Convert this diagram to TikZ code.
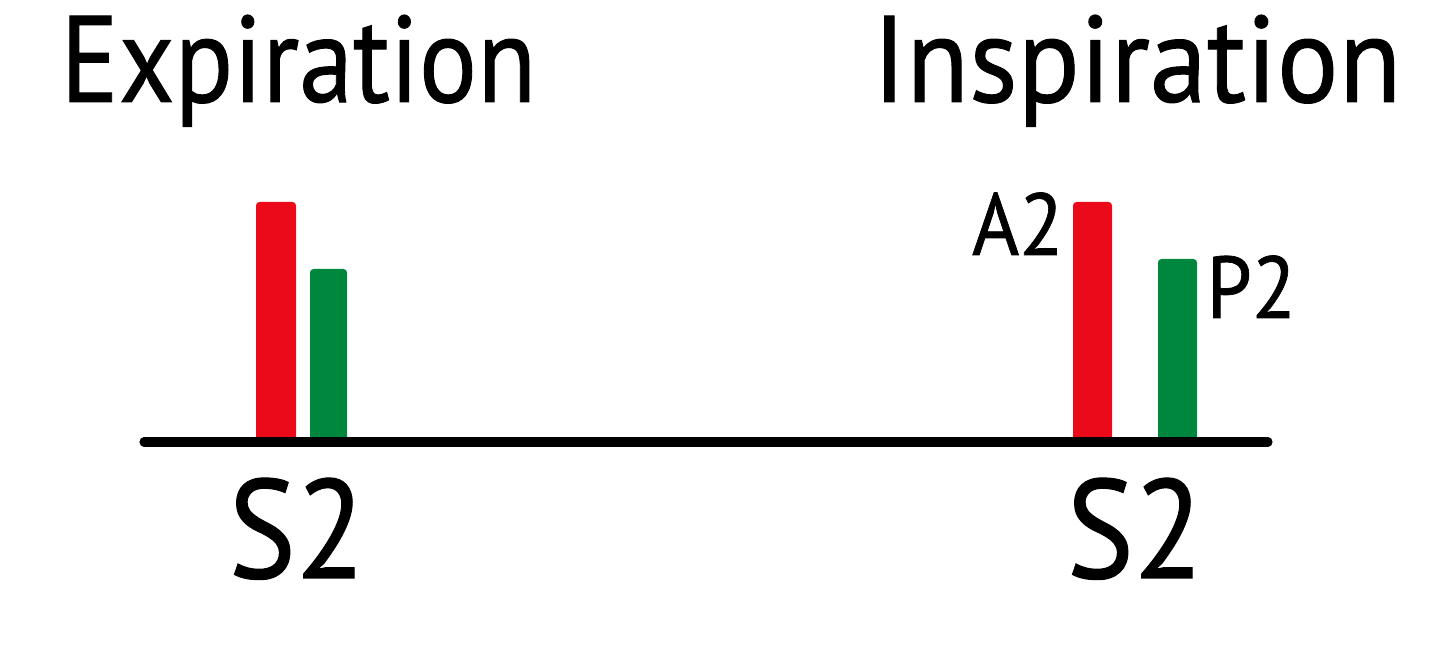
\documentclass[tikz,border=0pt]{standalone}
\usepackage{fontspec}
\setmainfont{PT Sans}
\newfontfamily\diafont[FakeBold=0.8]{PT Sans}
\definecolor{aortic}{RGB}{234,10,26}
\definecolor{pulmonic}{RGB}{0,135,62}
\tikzset{
  title/.style={anchor=base west,inner sep=0pt,xscale=0.9,font=\diafont\fontsize{35}{35}\selectfont},
  sound/.style={anchor=base west,inner sep=0pt,xscale=0.9,font=\diafont\fontsize{40}{40}\selectfont},
  comp/.style={inner sep=0pt,xscale=0.92,font=\diafont\fontsize{25}{25}\selectfont}
}
\begin{document}
\begin{tikzpicture}
    \useasboundingbox (0,0) rectangle (14.4,6.58);
    \node[title,xscale=0.98](expi) at (0.60,5.56){Expiration};
    \node[title,xscale=1.04](insp) at (8.72,5.56){Inspiration};
    % bars
    \fill[aortic,rounded corners=1pt](2.56,2.16) rectangle (2.96,4.56);
    \fill[pulmonic,rounded corners=1pt](3.10,2.16) rectangle (3.47,3.89);
    \fill[aortic,rounded corners=1pt](10.73,2.16) rectangle (11.12,4.56);
    \fill[pulmonic,rounded corners=1pt](11.58,2.16) rectangle (11.97,3.99);
    \draw[line width=2.6pt,line cap=round](1.44,2.16)coordinate(l)--(12.68,2.16)coordinate(r);
    \node[comp,anchor=base east](a2) at (10.64,4.03){A2};
    \node[comp,anchor=base west](p2) at (12.06,3.40){P2};
    \node[sound](s2e) at (2.28,0.80){S2};
    \node[sound](s2i) at (10.66,0.80){S2};
\end{tikzpicture}
\end{document}
